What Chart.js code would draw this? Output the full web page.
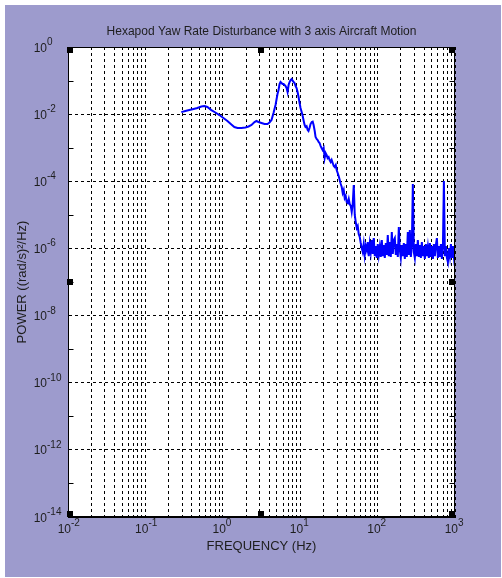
<!DOCTYPE html>
<html>
<head>
<meta charset="utf-8">
<script src="https://cdn.jsdelivr.net/npm/chart.js@4.4.0/dist/chart.umd.min.js"></script>
<style>
  html, body { margin: 0; padding: 0; background: #fff; }
  #fig { position: absolute; left: 5px; top: 5px; width: 496px; height: 572px; background: #9d9bcd; }
</style>
</head>
<body>
<div id="fig"><canvas id="myChart" width="496" height="572"></canvas></div>
<script>
const chartTitle = 'Hexapod Yaw Rate Disturbance with 3 axis Aircraft Motion';
const xTitle = 'FREQUENCY (Hz)';
const yTitle = 'POWER ((rad/s)\u00B2/Hz)';

// x decades and their exponent labels (drawn as 10^n)
const xDecades = [1e-2, 1e-1, 1e0, 1e1, 1e2, 1e3];
const xTickExp = ['-2', '-1', '0', '1', '2', '3'];

// y decades (every decade gets a tick, even ones get a label + grid line)
const yDecades = [1e0, 1e-1, 1e-2, 1e-3, 1e-4, 1e-5, 1e-6, 1e-7, 1e-8, 1e-9, 1e-10, 1e-11, 1e-12, 1e-13, 1e-14];
const yLabelDecades = [1e0, 1e-2, 1e-4, 1e-6, 1e-8, 1e-10, 1e-12, 1e-14];
const yTickExp = ['0', '-2', '-4', '-6', '-8', '-10', '-12', '-14'];

// frequency (Hz)
const freqHz = [
  0.291, 0.328, 0.369, 0.419, 0.469, 0.528, 0.578, 0.632, 0.711, 0.802,
  0.904, 1.018, 1.147, 1.29, 1.41, 1.55, 1.74, 1.96, 2.15, 2.35,
  2.57, 2.72, 2.89, 3.16, 3.46, 3.78, 4.01, 4.26, 4.52, 4.80,
  5.09, 5.25, 5.41, 5.57, 5.74, 5.91, 6.10, 6.28, 6.47, 6.67,
  6.87, 7.08, 7.29, 7.51, 7.74, 7.98, 8.22, 8.46, 8.72, 8.98,
  9.25, 9.53, 9.82, 10.1, 10.7, 11.1, 11.4, 11.7, 12.1, 12.5,
  12.8, 13.2, 13.6, 14.1, 14.5, 14.9, 15.4, 15.8, 16.3, 16.8,
  17.3, 17.8, 18.4, 18.9, 19.5, 20.1, 20.7, 21.3, 22.0, 22.6,
  23.3, 24.0, 24.8, 25.5, 26.3, 27.1, 27.9, 28.8, 29.6, 30.5,
  31.4, 32.4, 33.4, 34.4, 35.4, 36.5, 37.6, 38.7, 39.9, 41.1,
  42.4, 43.6, 45.0, 46.3, 47.7, 49.2, 50.7, 52.2, 53.8, 55.4,
  57.0, 58.8, 60.6,
  62.4, 64.3, 66.2, 68.2, 70.3, 72.4, 74.6, 76.9, 79.2, 81.6,
  84.1, 86.6, 89.2, 91.9, 94.7, 97.6, 100.5, 103.6, 106.7, 109.9,
  113.3, 116.7, 120.2, 123.9, 127.6, 131.5, 135.4, 139.5, 143.8, 148.1,
  152.6, 157.2, 162.0, 166.9, 171.9, 177.1, 182.5, 188.0, 193.7, 199.6,
  205.6, 211.8, 218.2, 224.8, 231.6, 238.6, 245.8, 253.3, 260.9, 268.8,
  276.9, 285.3, 293.9, 302.8, 312.0, 321.4, 331.1, 341.2, 351.5, 362.1,
  373.1, 384.4, 396.0, 407.9, 420.3, 433.0, 446.1, 459.6, 473.5, 487.8,
  502.6, 517.8, 533.4, 549.6, 566.2, 583.3, 601.0, 619.2, 637.9, 657.2,
  677.1, 697.6, 718.7, 740.5, 762.9, 786.0, 809.8, 834.3, 859.6, 885.6,
  912.4, 940.0, 968.5, 1000
];

// power spectral density ((rad/s)^2/Hz)
const powerPsd = [
  1.15e-2, 1.24e-2, 1.32e-2, 1.42e-2, 1.52e-2, 1.69e-2, 1.74e-2, 1.63e-2, 1.32e-2, 1.12e-2,
  9.4e-3, 7.7e-3, 6.25e-3, 4.9e-3, 4.14e-3, 3.87e-3, 3.87e-3, 4.0e-3, 4.28e-3, 4.75e-3,
  5.83e-3, 6.25e-3, 5.83e-3, 5.45e-3, 5.08e-3, 5.08e-3, 5.64e-3, 6.69e-3, 1.08e-2, 1.87e-2,
  3.98e-2, 5.24e-2, 7.9e-2, 9.06e-2, 8.47e-2, 7.9e-2, 7.9e-2, 7.38e-2, 6.89e-2, 6.01e-2,
  4.57e-2, 7.38e-2, 9.06e-2, 1.04e-1, 1.11e-1, 1.0e-1, 9.06e-2, 8.47e-2, 6.89e-2, 6.01e-2,
  4.57e-2, 3.24e-2, 2.15e-2, 1.52e-2, 9.4e-3, 6.25e-3, 4.75e-3, 4.14e-3, 4.4e-3, 3.37e-3,
  3.15e-3, 3.87e-3, 5.08e-3, 5.83e-3, 6.0e-3, 4.75e-3, 3.15e-3, 2.08e-3, 1.82e-3, 1.70e-3,
  1.48e-3, 1.38e-3, 1.12e-3, 9.8e-4, 8.55e-4, 9.8e-4, 4.93e-4, 6.95e-4, 6.06e-4, 4.93e-4,
  5.28e-4, 4.3e-4, 3.75e-4, 4.3e-4, 3.5e-4, 2.85e-4, 2.66e-4, 3.05e-4, 2.17e-4, 1.77e-4,
  1.44e-4, 1.09e-4, 8.3e-5, 6.76e-5, 4.48e-5, 5.5e-5, 3.18e-5, 3.65e-5, 2.42e-5, 2.25e-5,
  2.97e-5, 2.1e-5, 1.84e-5, 1.22e-5, 2.1e-5, 7.75e-5, 9.9e-6, 6.1e-6, 4.06e-6, 4.66e-6,
  2.69e-6, 2.19e-6, 1.45e-6,
  1.03e-6, 7.8e-7, 1.35e-6, 6.4e-7, 1.18e-6, 9.0e-7, 1.55e-6, 5.9e-7, 1.35e-6, 7.8e-7,
  1.78e-6, 6.8e-7, 2.04e-6, 5.9e-7, 1.18e-6, 5.2e-7, 1.35e-6, 6.4e-7, 1.10e-6, 5.55e-7,
  1.78e-6, 5.9e-7, 1.26e-6, 5.2e-7, 1.45e-6, 6.4e-7, 2.51e-6, 5.9e-7, 1.55e-6, 5.55e-7,
  3.08e-6, 6.8e-7, 1.78e-6, 2.04e-6, 6.4e-7, 1.35e-6, 5.55e-7, 4.35e-6, 9.0e-7, 5.2e-7,
  1.26e-6, 5.9e-7, 1.45e-6, 4.85e-7, 1.35e-6, 5.55e-7, 3.08e-6, 6.4e-7, 3.54e-6, 5.55e-7,
  1.18e-6, 8.3e-5, 7.8e-7, 5.2e-7, 1.35e-6, 5.9e-7, 1.78e-6, 5.55e-7, 1.26e-6, 5.2e-7,
  1.55e-6, 5.9e-7, 1.18e-6, 4.85e-7, 1.35e-6, 5.9e-7, 1.10e-6, 5.2e-7, 1.45e-6, 5.55e-7,
  1.18e-6, 4.85e-7, 1.35e-6, 5.9e-7, 1.26e-6, 2.04e-6, 5.2e-7, 1.18e-6, 5.55e-7, 1.35e-6,
  4.85e-7, 1.10e-6, 1.02e-4, 5.9e-7, 1.18e-6, 5.2e-7, 3.9e-7, 1.03e-6, 5.9e-7, 1.35e-6,
  5.2e-7, 1.18e-6, 5.55e-7, 1.03e-6
];

// little black selection squares on the axes box
const handleFreq = [1e-2, 3.162, 1e3, 1e-2, 1e3, 1e-2, 3.162, 1e3];
const handlePower = [1e0, 1e0, 1e0, 1e-7, 1e-7, 1e-14, 1e-14, 1e-14];

const fontFamily = '"Liberation Sans", Arial, sans-serif';
const textColor = '#1e1e1e';

// grid values for x: 1..9 in every decade
const xGridValues = [];
xDecades.forEach((d, i) => {
  if (i === xDecades.length - 1) { xGridValues.push(d); return; }
  for (let m = 1; m <= 9; m++) xGridValues.push(d * m);
});

function sameDecade(a, b) {
  return Math.abs(Math.log10(a) - Math.log10(b)) < 1e-6;
}

const matlabFrame = {
  id: 'matlabFrame',
  beforeDraw(chart) {
    const {ctx, chartArea: a} = chart;
    ctx.save();
    ctx.fillStyle = '#fff';
    ctx.fillRect(a.left, a.top, a.right - a.left, a.bottom - a.top);
    ctx.restore();
  },
  afterDraw(chart) {
    const {ctx, chartArea: a, scales: {x, y}} = chart;
    ctx.save();
    ctx.strokeStyle = '#000';
    ctx.lineWidth = 1;
    const l = Math.round(a.left) + 0.5, r = Math.round(a.right) - 0.5;
    const t = Math.round(a.top) + 0.5, b = Math.round(a.bottom) - 0.5;
    ctx.strokeRect(l, t, r - l, b - t);

    // inward ticks on the unlabelled decades
    ctx.beginPath();
    yDecades.forEach(v => {
      if (yLabelDecades.some(d => sameDecade(d, v))) return;
      const py = Math.round(y.getPixelForValue(v)) + 0.5;
      ctx.moveTo(l, py); ctx.lineTo(l + 5, py);
      ctx.moveTo(r - 5, py); ctx.lineTo(r, py);
    });
    ctx.stroke();

    // selection handles
    ctx.fillStyle = '#000';
    handleFreq.forEach((f, i) => {
      const px = x.getPixelForValue(f), py = y.getPixelForValue(handlePower[i]);
      const sx = Math.min(Math.max(Math.round(px - 3), a.left - 1), a.right - 6);
      const sy = Math.min(Math.max(Math.round(py - 3), a.top), a.bottom - 6);
      ctx.fillRect(sx, sy, 6, 6);
    });

    // tick labels as 10 with a raised exponent
    ctx.fillStyle = textColor;
    ctx.textBaseline = 'alphabetic';
    xDecades.forEach((d, i) => {
      const px = x.getPixelForValue(d);
      ctx.font = '12px ' + fontFamily;
      ctx.textAlign = 'right';
      ctx.fillText('10', px + 3, a.bottom + 16);
      ctx.font = '10px ' + fontFamily;
      ctx.textAlign = 'left';
      ctx.fillText(xTickExp[i], px + 3, a.bottom + 9);
    });
    yLabelDecades.forEach((d, i) => {
      const py = y.getPixelForValue(d);
      ctx.font = '12px ' + fontFamily;
      ctx.textAlign = 'right';
      ctx.fillText('10', a.left - 21, py + 4.5);
      ctx.font = '10px ' + fontFamily;
      ctx.textAlign = 'left';
      ctx.fillText(yTickExp[i], a.left - 21, py - 2);
    });

    // title over the axes box
    ctx.font = '12px ' + fontFamily;
    ctx.textAlign = 'center';
    ctx.textBaseline = 'middle';
    ctx.fillText(chartTitle, (a.left + a.right) / 2, a.top - 15);
    ctx.restore();
  }
};

const ctx = document.getElementById('myChart');

new Chart(ctx,
  {
    type: 'line',
    data:
    {
      datasets:
      [
        {
          label: 'Yaw rate PSD',
          data: freqHz.map((f, i) => ({x: f, y: powerPsd[i]})),
          borderColor: '#0000ff',
          borderWidth: 2,
          pointRadius: 0,
          tension: 0,
          fill: false
        }
      ]
    },
    options:
    {
      responsive: false,
      animation: false,
      events: [],
      layout: { padding: { top: 42, right: 46, left: 0, bottom: 0 } },
      plugins:
      {
        legend: { display: false },
        tooltip: { enabled: false },
        title: { display: false }
      },
      scales:
      {
        x:
        {
          type: 'logarithmic',
          min: 1e-2,
          max: 1e3,
          afterBuildTicks: s => { s.ticks = xGridValues.map(v => ({value: v})); },
          afterFit: s => { s.height = 60; },
          grid: { color: '#000', lineWidth: 1, drawTicks: false },
          border: { display: true, color: '#000', width: 1, dash: [3, 3] },
          ticks: { display: false, autoSkip: false },
          title:
          {
            display: true,
            text: xTitle,
            color: textColor,
            font: { family: fontFamily, size: 13 },
            padding: { top: 2, bottom: 23 }
          }
        },
        y:
        {
          type: 'logarithmic',
          min: 1e-14,
          max: 1e0,
          afterBuildTicks: s => { s.ticks = yDecades.map(v => ({value: v})); },
          afterFit: s => { s.width = 63; },
          grid:
          {
            color: c => yLabelDecades.some(d => sameDecade(d, c.tick.value)) ? '#000' : 'rgba(0,0,0,0)',
            lineWidth: 1,
            drawTicks: false
          },
          border: { display: true, color: '#000', width: 1, dash: [3, 3] },
          ticks: { display: false, autoSkip: false },
          title:
          {
            display: true,
            text: yTitle,
            color: textColor,
            font: { family: fontFamily, size: 13 },
            padding: { top: 10, bottom: 0 }
          }
        }
      }
    },
    plugins: [matlabFrame]
  }
  );
</script>
</body>
</html>
